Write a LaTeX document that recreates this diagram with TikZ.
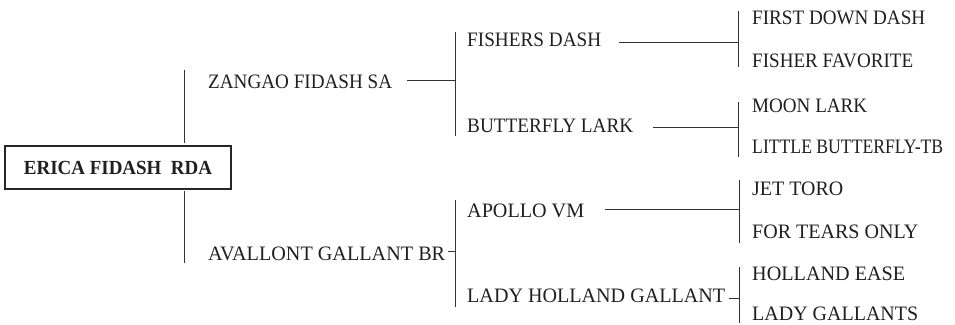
\documentclass[tikz,border=0pt]{standalone}
\usepackage{graphicx}
\usepackage{fontspec}
\setmainfont{Liberation Serif}
\newcommand\fitw[2]{\resizebox{#1pt}{\height}{#2}}
\begin{document}
\begin{tikzpicture}[x=1pt,y=-1pt,
  lbl/.style={anchor=base west,inner sep=0pt,font=\fontsize{20.5}{22}\selectfont,text=black!88},
  rootbox/.style={draw=black!85,line width=1.1pt,minimum width=226pt,minimum height=43pt,inner sep=0pt,font=\fontsize{20}{22}\selectfont\bfseries,text=black!88},
  conn/.style={draw=black!80,line width=0.9pt}]
\useasboundingbox (0,0) rectangle (955,324);
% root
\node[rootbox] (root) at (118,167.5) {\fitw{188}{ERICA FIDASH\ \ RDA}};
% generation 1
\node[lbl] (zangao) at (208,88) {\fitw{184}{ZANGAO FIDASH SA}};
\node[lbl] (avallont) at (208,260) {\fitw{237}{AVALLONT GALLANT BR}};
% generation 2
\node[lbl] (fishers) at (467,46) {\fitw{134}{FISHERS DASH}};
\node[lbl] (butterfly) at (467,132) {\fitw{166}{BUTTERFLY LARK}};
\node[lbl] (apollo) at (467,217) {\fitw{117}{APOLLO VM}};
\node[lbl] (ladyholland) at (467,302) {\fitw{258}{LADY HOLLAND GALLANT}};
% generation 3
\node[lbl] (firstdown) at (752,24.5) {\fitw{173}{FIRST DOWN DASH}};
\node[lbl] (fisherfav) at (752,67) {\fitw{161}{FISHER FAVORITE}};
\node[lbl] (moonlark) at (752,112) {\fitw{115}{MOON LARK}};
\node[lbl] (littleb) at (752,153) {\fitw{191}{LITTLE BUTTERFLY-TB}};
\node[lbl] (jettoro) at (752,195) {\fitw{91}{JET TORO}};
\node[lbl] (fortears) at (752,238) {\fitw{166}{FOR TEARS ONLY}};
\node[lbl] (hollandease) at (752,280) {\fitw{153}{HOLLAND EASE}};
\node[lbl] (ladygallants) at (752,320.5) {\fitw{166}{LADY GALLANTS}};
% bracket coordinates
\coordinate (g1a) at (184,70);   \coordinate (g1b) at (184,143);
\coordinate (g1c) at (184,191);  \coordinate (g1d) at (184,263);
\coordinate (za) at (407,80);    \coordinate (zb) at (455,80);
\coordinate (zt) at (455,32);    \coordinate (zd) at (455,136);
\coordinate (aa) at (448,251);   \coordinate (ab) at (455,251);
\coordinate (at) at (455,200);   \coordinate (ad) at (455,307);
\coordinate (fa) at (619,42);    \coordinate (fb) at (738,42);
\coordinate (ft) at (738,11);    \coordinate (fd) at (738,67);
\coordinate (ba) at (653,127);   \coordinate (bb) at (738,127);
\coordinate (bt) at (738,102);   \coordinate (bd) at (738,157);
\coordinate (pa) at (605,209);   \coordinate (pb) at (739,209);
\coordinate (pt) at (739,180);   \coordinate (pd) at (739,243);
\coordinate (la) at (729,298);   \coordinate (lb) at (739,298);
\coordinate (lt) at (739,267);   \coordinate (ld) at (739,323);
% connectors
\draw[conn] (g1a) -- (g1b);
\draw[conn] (g1c) -- (g1d);
\draw[conn] (za) -- (zb);
\draw[conn] (zt) -- (zd);
\draw[conn] (aa) -- (ab);
\draw[conn] (at) -- (ad);
\draw[conn] (fa) -- (fb);
\draw[conn] (ft) -- (fd);
\draw[conn] (ba) -- (bb);
\draw[conn] (bt) -- (bd);
\draw[conn] (pa) -- (pb);
\draw[conn] (pt) -- (pd);
\draw[conn] (la) -- (lb);
\draw[conn] (lt) -- (ld);
\end{tikzpicture}
\end{document}
